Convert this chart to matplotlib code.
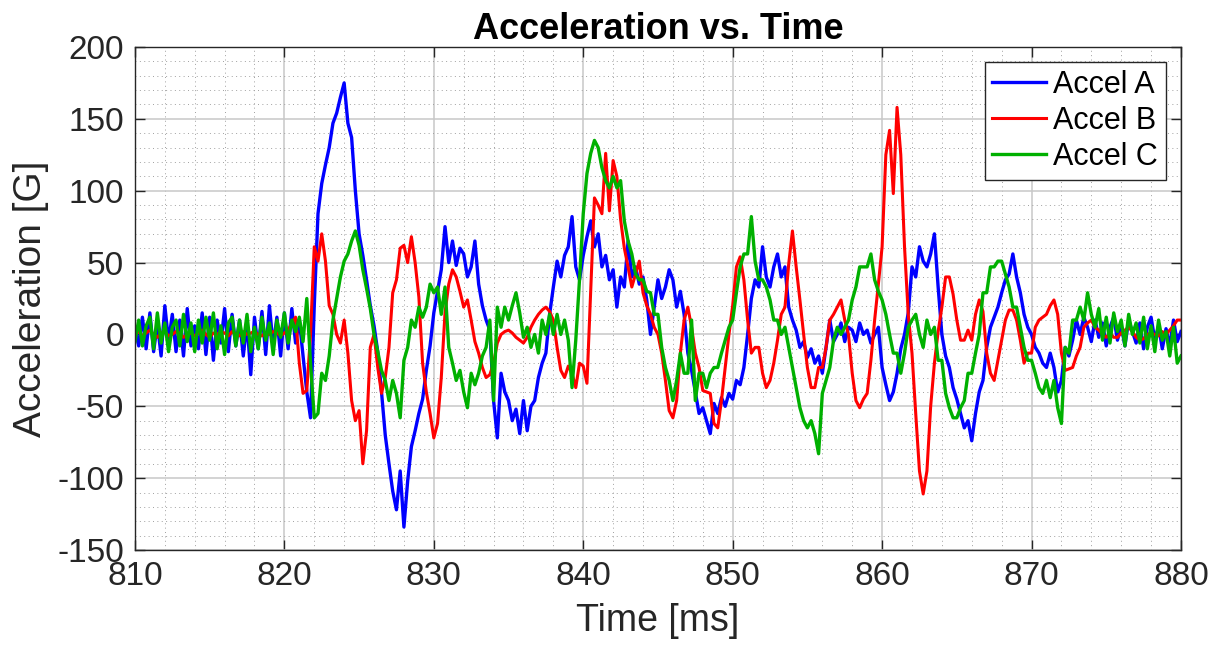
import numpy as np
import matplotlib
matplotlib.use('Agg')
import matplotlib.pyplot as plt
from matplotlib.ticker import MultipleLocator

# time base: samples every 0.25 ms from 810 to 880 ms
t_start, t_step, n_samples = 810.0, 0.25, 281

# values, one row per ms (4 samples each)
accel_a = [
    5, -8, 12, -10,   15, -12, 8, -15,   20, -5, 14, -12,   10, -15, 18, -8,     # 810-813
    6, -10, 15, -14,  12, -18, 10, -6,   18, -12, 14, -8,   10, -15, 8, -28,     # 814-817
    12, -10, 16, -14, 20, -8, 12, -15,   15, -10, 18, -6,   10, -15, -40, -58,   # 818-821
    20, 84, 105, 118, 130, 147, 154, 165, 175, 147, 137, 100, 70, 55, 38, 20,    # 822-825
    6, -12, -40, -70, -90, -109, -122, -95, -134, -102, -78, -67, -55, -45, -25, -8,  # 826-829
    15, 30, 45, 75,   50, 65, 48, 60,    56, 40, 47, 65,    35, 20, 10, 3,       # 830-833
    -46, -72, -27, -40, -46, -60, -52, -69, -46, -67, -50, -46, -30, -20, -13, 14,  # 834-837
    33, 51, 40, 55,   61, 82, 47, 38,    55, 68, 79, 61,    70, 47, 55, 38,      # 838-841
    45, 19, 40, 33,   65, 40, 47, 35,    40, 24, 0, 19,     38, 25, 33, 45,      # 842-845
    38, 19, 30, 14,   -13, -25, -40, -55, -51, -60, -69, -48, -55, -44, -50, -41,  # 846-849
    -45, -32, -35, -23, 0, 25, 38, 33,   61, 40, 33, 47,    56, 40, 47, 19,      # 850-853
    10, 3, -9, -5,    -16, -10, -20, -15, -27, -9, 10, -5,  0, 8, -5, 5,         # 854-857
    3, -5, 8, 0,      3, -6, 0, 5,       -23, -35, -46, -40, -27, -10, 0, 15,    # 858-861
    47, 40, 61, 51,   47, 56, 70, 33,    0, -15, -23, -37,  -45, -55, -65, -60,  # 862-865
    -74, -55, -40, -32, -9, 5, 12, 19,   29, 38, 42, 56,    40, 29, 14, 5,       # 866-869
    0, -9, -13, -20,  -23, -13, -23, -40, -32, -9, -15, -4, 10, 0, 12, 5,        # 870-873
    -5, 10, -2, 8,    -8, 5, 12, -4,     6, -8, 10, 2,      -6, 8, -10, 5,       # 874-877
    12, -4, 6, -10,   4, -8, 10, -5,     2,                                      # 878-880
]

accel_b = [
    0, 2, -1, 1,      3, 0, -2, 1,       2, -1, 0, 2,       1, -2, 0, 1,         # 810-813
    -1, 1, 3, 0,      -2, 1, 0, 2,       1, -1, 2, 0,       -1, 2, 0, 1,         # 814-817
    2, 0, -1, 1,      0, 2, 1, -1,       1, 3, 8, 12,       -20, -41, -39, 0,    # 818-821
    61, 51, 70, 51,   20, 14, 0, -6,     10, -13, -46, -60, -53, -90, -67, -9,   # 822-825
    0, -23, -41, -30, -9, 29, 38, 60,    62, 50, 68, 50,    26, -20, -40, -55,   # 826-829
    -72, -62, -30, 15, 35, 45, 40, 30,   19, 24, 10, -5,    -13, -23, -30, -28,  # 830-833
    -20, -6, 0, 2,    3, 1, -2, -4,      -6, -2, 5, 10,     14, 17, 19, 16,      # 834-837
    10, -9, -25, -30, -22, -27, -37, -20, -22, -34, 30, 95, 90, 84, 126, 86,     # 838-841
    121, 110, 80, 60, 47, 33, 42, 51,    29, 20, 14, 5,     0, -13, -32, -53,    # 842-845
    -58, -46, -13, 10, 19, 5, -13, -23,  -39, -40, -41, -62, -65, -46, -23, 0,   # 846-849
    20, 47, 54, 38,   10, -13, -9, -9,   -27, -37, -32, -20, -4, 14, 19, 49,     # 850-853
    72, 47, 24, 0,    -23, -37, -37, -23, -23, -9, 10, 14,  19, 24, 10, 0,       # 854-857
    -27, -46, -51, -45, -41, -18, 10, 35, 61, 125, 142, 98, 158, 125, 61, 14,    # 858-861
    -13, -55, -95, -111, -95, -50, -20, 2, 19, 40, 40, 28,  10, -4, -4, 3,       # 862-865
    -4, 14, 24, 16,   -13, -27, -32, -18, -4, 10, 17, 17,   10, -4, -20, -13,    # 866-869
    -13, 5, 10, 12,   14, 20, 24, 14,    -13, -25, -24, -23, -15, -9, 5, 8,      # 870-873
    10, 5, 3, 0,      -2, 1, -2, -2,     1, 3, 5, 2,        -2, -4, -3, 0,       # 874-877
    1, 0, -1, 2,      0, 3, 6, 10,       10,                                     # 878-880
]

accel_c = [
    -5, 10, -8, 6,    12, -10, 15, -6,   8, -12, 5, 10,     -8, 14, -5, 8,       # 810-813
    -12, 10, -6, 12,  -4, 15, -10, 6,    -14, 8, 12, -8,    10, -6, 14, -12,     # 814-817
    5, -10, 12, -4,   8, -14, 10, -2,    15, -6, 10, 2,     12, -5, 25, -20,     # 818-821
    -58, -55, -27, -32, -15, 10, 25, 40, 51, 56, 65, 72,    62, 45, 32, 18,      # 822-825
    0, -12, -25, -32, -46, -32, -41, -58, -18, -9, 10, 5,   19, 12, 19, 35,      # 826-829
    29, 33, 14, 33,   -9, -20, -32, -25, -40, -51, -27, -35, -27, -15, -9, 10,   # 830-833
    -46, 19, 5, 19,   10, 20, 29, 15,    -2, 5, -9, 0,      -13, 10, 0, 14,      # 834-837
    0, 14, 0, 10,     -4, -37, -4, 38,   84, 112, 126, 135, 130, 116, 107, 102,  # 838-841
    110, 102, 107, 79, 65, 56, 42, 38,   38, 30, 29, 14,    14, -9, -23, -32,    # 842-845
    -46, -32, -13, -27, -27, 10, -46, -27, -27, -37, -27, -23, -23, -13, -4, 5,  # 846-849
    10, 29, 47, 56,   56, 82, 51, 38,    38, 33, 24, 10,    10, 0, 5, -9,        # 850-853
    -23, -37, -51, -60, -65, -60, -69, -83, -41, -32, -23, -4, 5, 0, 5, 10,      # 854-857
    24, 33, 47, 47,   47, 56, 38, 30,    24, 14, 0, -13,    -13, -27, -13, 5,    # 858-861
    10, 14, 0, -9,    10, 0, 5, -18,     -18, -41, -51, -58, -58, -51, -46, -27, # 862-865
    -27, -13, 0, 29,  29, 47, 47, 51,    51, 42, 33, 19,    19, 5, -9, -18,      # 866-869
    -18, -27, -37, -41, -32, -44, -32, -51, -62, -9, -13, 10, 10, 19, 10, 29,    # 870-873
    14, 5, 18, -4,    12, -6, 15, 2,     10, -8, 14, 0,     8, -6, 12, -10,      # 874-877
    6, -12, 10, -4,   2, -15, 5, -20,    -15,                                    # 878-880
]

t = t_start + t_step * np.arange(n_samples)

col_a = '#0000FF'
col_b = '#FF0000'
col_c = '#00B000'
txt = '#262626'

plt.rcParams.update({'font.family': ['Liberation Sans', 'DejaVu Sans'],
                     'font.size': 20, 'axes.unicode_minus': False})

fig = plt.figure(figsize=(12.19, 6.49), dpi=100)
ax = fig.add_axes([0.1107, 0.1525, 0.8581, 0.7751])

ax.plot(t, accel_a[:n_samples], color=col_a, lw=2.4, label='Accel A')
ax.plot(t, accel_b[:n_samples], color=col_b, lw=2.2, label='Accel B')
ax.plot(t, accel_c[:n_samples], color=col_c, lw=2.4, label='Accel C')

ax.set_xlim(810, 880)
ax.set_ylim(-150, 200)
ax.xaxis.set_major_locator(MultipleLocator(10))
ax.xaxis.set_minor_locator(MultipleLocator(2))
ax.yaxis.set_major_locator(MultipleLocator(50))
ax.yaxis.set_minor_locator(MultipleLocator(10))

ax.grid(which='major', color='#c8c8c8', lw=1.1, ls='-')
ax.grid(which='minor', color='#a0a0a0', lw=0.7, ls=(0, (1, 3.5)))
ax.set_axisbelow(True)

ax.tick_params(which='major', direction='in', length=7, width=1,
               labelsize=24, colors=txt, top=True, right=True, pad=8)
ax.tick_params(which='minor', length=0)
for s in ax.spines.values():
    s.set_color(txt)
    s.set_linewidth(1)

ax.set_xlabel('Time [ms]', fontsize=27, color=txt, labelpad=8)
ax.set_ylabel('Acceleration [G]', fontsize=28, color=txt, labelpad=6)
ax.set_title('Acceleration vs. Time', fontsize=26, fontweight='bold',
             color='black', pad=6)

leg = ax.legend(loc='upper right', fontsize=22, fancybox=False,
                edgecolor=txt, framealpha=1, handlelength=1.75,
                borderpad=0.25, labelspacing=0.2, handletextpad=0.25,
                borderaxespad=0.5)
leg.get_frame().set_linewidth(1)

fig.savefig('out.png', dpi=100)
